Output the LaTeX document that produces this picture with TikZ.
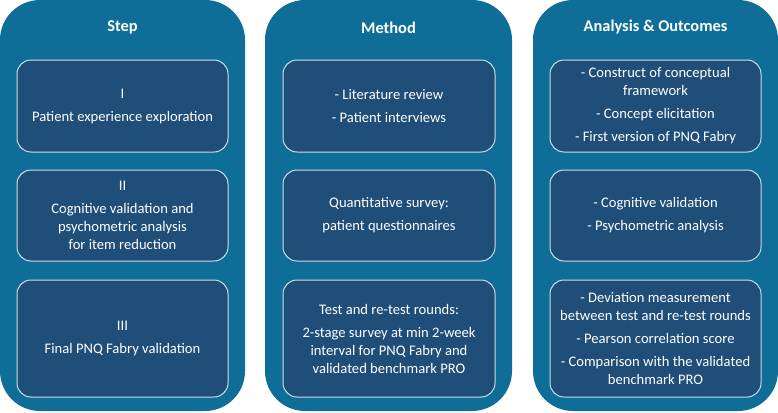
\documentclass[tikz,border=0pt]{standalone}
\usepackage{fontspec}
\setmainfont{Carlito}
\definecolor{colblue}{RGB}{14,110,151}
\definecolor{boxblue}{RGB}{31,78,121}
\definecolor{boxline}{RGB}{205,220,232}
\begin{document}
\begin{tikzpicture}[x=1pt,y=-1pt,
  column/.style={draw=none,fill=colblue,rounded corners=40pt,inner sep=0pt,minimum width=#1,minimum height=411pt},
  title/.style={text=white,font=\fontsize{16.4}{19}\selectfont\bfseries},
  cell/.style={draw=boxline,line width=1pt,fill=boxblue,rounded corners=14pt,inner sep=2pt,
    minimum width=211pt,text=white,align=center,font=\fontsize{14.6}{18}\selectfont},
  row1/.style={minimum height=92pt},
  row2/.style={minimum height=91pt},
  row3/.style={minimum height=117pt}]
\useasboundingbox (0,0) rectangle (778,412);
\node[column=245pt] (c1) at (122.5,205.5) {};
\node[column=247pt] (c2) at (388.5,205.5) {};
\node[column=245pt] (c3) at (655.5,205.5) {};
\node[title] (t1) at (122.5,27.5) {Step};
\node[title] (t2) at (388.5,27.5) {Method};
\node[title] (t3) at (655.5,27.5) {Analysis \& Outcomes};
% column 1
\node[cell,row1] (s1) at (122.5,106) {I\\[5pt]Patient experience exploration};
\node[cell,row2] (s2) at (122.5,215.5) {II\\[5pt]Cognitive validation and\\psychometric analysis\\for item reduction};
\node[cell,row3] (s3) at (122.5,338.5) {III\\[5pt]Final PNQ Fabry validation};
% column 2
\node[cell,row1,minimum width=212pt] (m1) at (389,106) {- Literature review\\[5pt]- Patient interviews};
\node[cell,row2,minimum width=212pt] (m2) at (389,215.5) {Quantitative survey:\\[5pt]patient questionnaires};
\node[cell,row3,minimum width=212pt] (m3) at (389,338.5) {Test and re-test rounds:\\[5pt]2-stage survey at min 2-week\\interval for PNQ Fabry and\\validated benchmark PRO};
% column 3
\node[cell,row1] (a1) at (655.5,106) {- Construct of conceptual\\framework\\[5pt]- Concept elicitation\\[5pt]- First version of PNQ Fabry};
\node[cell,row2] (a2) at (655.5,215.5) {- Cognitive validation\\[5pt]- Psychometric analysis};
\node[cell,row3] (a3) at (655.5,338.5) {- Deviation measurement\\between test and re-test rounds\\[5pt]- Pearson correlation score\\[5pt]- Comparison with the validated\\benchmark PRO};
\end{tikzpicture}
\end{document}
